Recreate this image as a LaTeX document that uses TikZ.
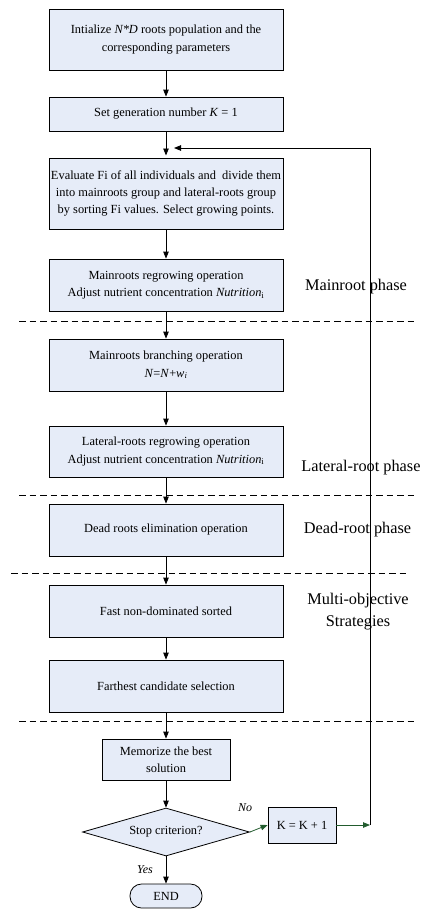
\documentclass[tikz,border=0pt]{standalone}
\usepackage{fontspec}
\setmainfont{Liberation Serif}
\usepackage{tikz}
\usetikzlibrary{arrows.meta,positioning,shapes.geometric}
\definecolor{boxfill}{RGB}{230,236,248}
\definecolor{loopgreen}{RGB}{34,92,46}

\begin{document}
\begin{tikzpicture}[
			x = 1pt, y = -1pt,
			every node/.style = {font=\fontsize{12.4}{17.3}\selectfont},
			procbox/.style = {draw, line width=0.8pt, fill=boxfill, align=center, minimum width=234pt, inner sep=1pt},
			phaselbl/.style = {align=center, font=\fontsize{16.3}{22}\selectfont},
			answer/.style = {font=\fontsize{12}{14}\selectfont\itshape},
			arr/.style = {-{Triangle[length=7pt,width=5.5pt]}, line width=0.8pt},
			greenarr/.style = {arr, draw=loopgreen},
			sep/.style = {line width=0.8pt, dash pattern=on 6.5pt off 4pt}
		]

			\def\lx{370}

			\useasboundingbox (0,0) rectangle (424,910);

			\draw[sep] (19,321) -- (415,321);
			\draw[sep] (19,495) -- (415,495);
			\draw[sep] (11,573) -- (406,573);
			\draw[sep] (19,721) -- (415,721);

			\node[procbox, minimum height=61pt] (init) at (166,39.5) {Intialize \textit{N*D} roots population and the\\corresponding parameters};
			\node[procbox, minimum height=34pt] (setk) at (166,114) {Set generation number \textit{K} = 1};
			\node[procbox, minimum height=71pt] (eval) at (166,193.5) {Evaluate Fi of all individuals and\ \ divide them\\into mainroots group and lateral-roots group\\by sorting Fi values. Select growing points.};
			\node[procbox, minimum height=52pt] (mregrow) at (166,285) {Mainroots regrowing operation\\Adjust nutrient concentration \textit{Nutrition}\textsubscript{i}};
			\node[procbox, minimum height=52pt] (mbranch) at (166,365) {Mainroots branching operation\\\textit{N}=\textit{N}+\textit{w}\textsubscript{\textit{i}}};
			\node[procbox, minimum height=51pt] (lregrow) at (166,451.5) {Lateral-roots regrowing operation\\Adjust nutrient concentration \textit{Nutrition}\textsubscript{i}};
			\node[procbox, minimum height=52pt] (dead) at (166,530) {Dead roots elimination operation};
			\node[procbox, minimum height=52pt] (fast) at (166,611) {Fast non-dominated sorted};
			\node[procbox, minimum height=52pt] (far) at (166,686) {Farthest candidate selection};
			\node[procbox, minimum width=128pt, minimum height=41pt] (memo) at (166,759.5) {Memorize the best\\solution};
			\node[diamond, draw, line width=0.8pt, fill=boxfill, aspect=3.5, inner sep=0pt, minimum width=167pt, minimum height=48pt] (stop) at (166,832) {Stop criterion?};
			\node[procbox, minimum width=68pt, minimum height=36pt] (incr) at (302,825) {K = K + 1};
			\node[draw, line width=0.8pt, fill=boxfill, rounded corners=11.5pt, minimum width=72pt, minimum height=24pt, inner sep=1pt] (finish) at (166,896) {END};

			\node[phaselbl] (pmain) at (356,287) {Mainroot phase};
			\node[phaselbl] (plat) at (361,468) {Lateral-root phase};
			\node[phaselbl] (pdead) at (357.5,530) {Dead-root phase};
			\node[phaselbl] (pmulti) at (358,612) {Multi-objective\\Strategies};

			\node[answer] (lno) at (245,808) {No};
			\node[answer] (lyes) at (145,870) {Yes};

			\coordinate (join) at (166,155.5);
			\coordinate (loopin) at (174,148);
			\coordinate (turn) at (\lx,825);

			\draw[arr] (init) -- (setk);
			\draw[arr] (setk) -- (join);
			\draw[arr] (eval) -- (mregrow);
			\draw[arr] (mregrow) -- (mbranch);
			\draw[arr] (mbranch) -- (lregrow);
			\draw[arr] (lregrow) -- (dead);
			\draw[arr] (dead) -- (fast);
			\draw[arr] (fast) -- (far);
			\draw[arr] (far) -- (memo);
			\draw[arr] (memo) -- (stop);
			\draw[arr] (stop) -- (finish);
			\draw[greenarr] (stop.east) -- (incr.west);
			\draw[greenarr] (incr.east) -- (turn);
			\draw[arr] (turn) |- (loopin);

		\end{tikzpicture}
\end{document}
